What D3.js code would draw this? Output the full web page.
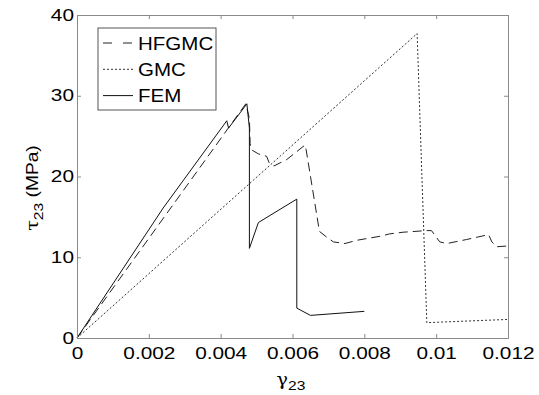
<!DOCTYPE html>
<html>
<head>
<meta charset="utf-8">
<script src="https://cdn.jsdelivr.net/npm/d3@7"></script>
<style>
body { margin: 0; background: #fff; }
text { font-family: 'Liberation Sans', Arial, sans-serif; fill: #000; }
</style>
</head>
<body>
<script>
// tick values and labels
const xTicks = [0, 0.002, 0.004, 0.006, 0.008, 0.01, 0.012];
const xTickLabels = ['0', '0.002', '0.004', '0.006', '0.008', '0.01', '0.012'];
const yTicks = [0, 10, 20, 30, 40];
const yTickLabels = ['0', '10', '20', '30', '40'];
const seriesNames = ['HFGMC', 'GMC', 'FEM'];

// HFGMC (dashed)
const hfgmcStrain = [0, 0.0047, 0.0048, 0.00482, 0.00486, 0.00505, 0.00528, 0.00535, 0.00548, 0.00584, 0.00635,
    0.00638, 0.00675, 0.00695, 0.00714, 0.00746, 0.00779, 0.00844, 0.00871, 0.00908, 0.00941, 0.00973, 0.00987,
    0.0101, 0.0103, 0.01085, 0.01146, 0.01155, 0.01169, 0.012];
const hfgmcStress = [0, 29.0, 27.2, 24.1, 23.3, 22.8, 22.5, 21.7, 21.3, 22.1, 23.9,
    23.3, 13.2, 12.5, 11.9, 11.7, 12.1, 12.6, 12.9, 13.1, 13.2, 13.3, 13.3,
    11.9, 11.7, 12.2, 12.8, 11.9, 11.3, 11.4];

// GMC (dotted)
const gmcStrain = [0, 0.00947, 0.00974, 0.012];
const gmcStress = [0, 37.7, 1.9, 2.3];

// FEM (solid)
const femStrain = [0, 0.0024, 0.00417, 0.00422, 0.00473, 0.0048, 0.0048, 0.00505, 0.00612, 0.00612, 0.0065, 0.008];
const femStress = [0, 16.1, 26.9, 26.0, 29.0, 26.0, 11.1, 14.3, 17.2, 3.7, 2.8, 3.3];

const width = 539, height = 395;
const margin = {top: 15, right: 31, bottom: 57, left: 77};
const axisColor = '#8a8a8a';
const stretch = 1.3;

const svg = d3.select('body')
    .append('svg')
    .attr('width', width)
    .attr('height', height);

const x = d3.scaleLinear().domain([0, 0.012]).range([margin.left, width - margin.right]);
const y = d3.scaleLinear().domain([0, 40]).range([height - margin.bottom, margin.top]);

const line = d3.line()
    .x(d => x(d[0]))
    .y(d => y(d[1]));

const series = [
    {name: 'HFGMC', data: d3.zip(hfgmcStrain, hfgmcStress), dash: '9,5', color: '#222'},
    {name: 'GMC', data: d3.zip(gmcStrain, gmcStress), dash: '2,2', color: '#333'},
    {name: 'FEM', data: d3.zip(femStrain, femStress), dash: null, color: '#111'}
];

svg.selectAll('.series')
    .data(series)
    .enter()
    .append('path')
    .attr('class', 'series')
    .attr('d', d => line(d.data))
    .attr('fill', 'none')
    .attr('stroke', d => d.color)
    .attr('stroke-width', 1)
    .attr('stroke-dasharray', d => d.dash);

// axes, ticks pointing inward
const bottom = svg.append('g')
    .attr('transform', 'translate(0,' + y(0) + ')')
    .call(d3.axisBottom(x).tickValues(xTicks).tickSize(-4).tickPadding(10)
        .tickFormat((d, i) => xTickLabels[i]));
bottom.selectAll('text').attr('font-size', 16).attr('transform', 'scale(' + stretch + ',1)');

const left = svg.append('g')
    .attr('transform', 'translate(' + x(0) + ',0)')
    .call(d3.axisLeft(y).tickValues(yTicks).tickSize(-4).tickPadding(3)
        .tickFormat((d, i) => yTickLabels[i]));
left.selectAll('text').attr('font-size', 16)
    .attr('x', -3 / stretch)
    .attr('transform', 'scale(' + stretch + ',1)');

svg.append('g')
    .attr('transform', 'translate(0,' + y(40) + ')')
    .call(d3.axisTop(x).tickValues(xTicks).tickSize(-4).tickFormat(''));

svg.append('g')
    .attr('transform', 'translate(' + x(0.012) + ',0)')
    .call(d3.axisRight(y).tickValues(yTicks).tickSize(-4).tickFormat(''));

svg.selectAll('.domain, .tick line').attr('stroke', axisColor);
svg.selectAll('.tick text').attr('fill', '#000');

// axis labels
const xLabel = svg.append('text')
    .attr('transform', 'translate(291,385) scale(1.2,1)')
    .attr('text-anchor', 'middle')
    .attr('font-size', 16);
xLabel.append('tspan').style('font-family', 'DejaVu Serif').attr('font-size', 16).text('γ');
xLabel.append('tspan').attr('font-size', 13).attr('dy', 5).text('23');

const yLabel = svg.append('text')
    .attr('transform', 'translate(38,188) rotate(-90) scale(1.2,1)')
    .attr('text-anchor', 'middle')
    .attr('font-size', 16);
yLabel.append('tspan').style('font-family', 'DejaVu Serif').text('τ');
yLabel.append('tspan').attr('font-size', 13).attr('dy', 5).text('23');
yLabel.append('tspan').attr('dy', -5).text(' (MPa)');

// legend
const legend = svg.append('g').attr('transform', 'translate(98,28)');
legend.append('rect')
    .attr('width', 118)
    .attr('height', 82)
    .attr('fill', '#fff')
    .attr('stroke', '#555');

const entry = legend.selectAll('.entry')
    .data(series)
    .enter()
    .append('g')
    .attr('class', 'entry')
    .attr('transform', (d, i) => 'translate(0,' + (15 + i * 26.3) + ')');

entry.append('line')
    .attr('x1', 5)
    .attr('x2', 35)
    .attr('stroke', d => d.color)
    .attr('stroke-dasharray', d => d.dash === '9,5' ? '9,11' : d.dash);

entry.append('text')
    .attr('x', 40 / 1.08)
    .attr('dy', '0.36em')
    .attr('font-size', 19)
    .attr('transform', 'scale(1.08,1)')
    .text((d, i) => seriesNames[i]);
</script>
</body>
</html>
